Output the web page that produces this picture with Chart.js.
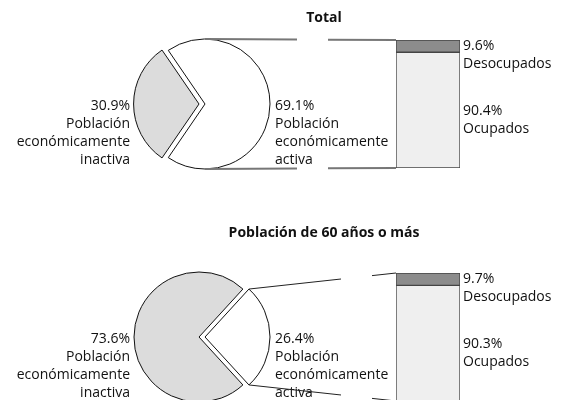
<!DOCTYPE html>
<html>
<head>
<meta charset="utf-8">
<script src="https://cdn.jsdelivr.net/npm/chart.js@4.4.1/dist/chart.umd.min.js"></script>
<style>
  html, body { margin: 0; padding: 0; background: #fff; overflow: hidden; }
  body { width: 564px; height: 400px; position: relative; }
  canvas { position: absolute; }
</style>
</head>
<body>
<canvas id="pieTotal"></canvas>
<canvas id="pie60"></canvas>
<canvas id="barTotal"></canvas>
<canvas id="bar60"></canvas>
<script>
// data
var titles = ['Total', 'Población de 60 años o más'];
var pieLabels = [['Población', 'económicamente', 'inactiva'], ['Población', 'económicamente', 'activa']];
var barLabels = ['Ocupados', 'Desocupados'];
var pieTotal = [30.9, 69.1];
var pie60 = [73.6, 26.4];
var barTotal = [90.4, 9.6];
var bar60 = [90.3, 9.7];

var FONT = '"Open Sans", "DejaVu Sans", sans-serif';
var TEXT = '#111';

// layout of the two panels (page pixels)
var panels = [
  {pie: 'pieTotal', bar: 'barTotal', title: titles[0], pieData: pieTotal, barData: barTotal,
   top: 0, cx: 205, cy: 104, titleY: 22, explode: 0, lineColor: '#777', lineWidth: 2, gap: [297, 328]},
  {pie: 'pie60', bar: 'bar60', title: titles[1], pieData: pie60, barData: bar60,
   top: 200, cx: 199, cy: 337, titleY: 237, explode: 1, lineColor: '#222', lineWidth: 1, gap: [341, 372]}
];
var byCanvas = {};

function pct(v) { return v.toFixed(1) + '%'; }

function place(cv, left, top, w, h) {
  cv.width = w; cv.height = h;
  cv.style.left = left + 'px'; cv.style.top = top + 'px';
  cv.style.width = w + 'px'; cv.style.height = h + 'px';
}

function arcCenter(a) {
  var mid = (a.startAngle + a.endAngle) / 2;
  var off = (a.options.offset || 0) / 4;
  return {x: a.x + Math.cos(mid) * off, y: a.y + Math.sin(mid) * off};
}

// labels right of the bar
var barDecor = {
  id: 'barDecor',
  afterDraw: function(chart) {
    var ctx = chart.ctx, area = chart.chartArea, y = chart.scales.y;
    var d = chart.data.datasets;
    var x = area.right + 3;
    ctx.save();
    ctx.font = '14px ' + FONT;
    ctx.fillStyle = TEXT;
    ctx.textAlign = 'left';
    ctx.fillText(pct(d[1].data[0]), x, area.top + 10);
    ctx.fillText(d[1].label, x, area.top + 28);
    var mid = y.getPixelForValue(50);
    ctx.fillText(pct(d[0].data[0]), x, mid + 11);
    ctx.fillText(d[0].label, x, mid + 29);
    ctx.restore();
  }
};

// title, slice labels and connector lines
var pieDecor = {
  id: 'pieDecor',
  afterDraw: function(chart) {
    var p = byCanvas[chart.canvas.id];
    if (!p) return;
    var ctx = chart.ctx;
    var arcs = chart.getDatasetMeta(0).data;
    var vals = chart.data.datasets[0].data;
    ctx.save();
    ctx.fillStyle = TEXT;
    ctx.font = 'bold 14px ' + FONT;
    ctx.textAlign = 'center';
    ctx.fillText(p.title, 324, p.titleY - p.top);

    var c0 = arcCenter(arcs[0]), c1 = arcCenter(arcs[1]);
    var r = arcs[0].outerRadius;
    var base = p.cy - p.top + 6;
    ctx.font = '14px ' + FONT;
    ctx.textAlign = 'right';
    var left = [pct(vals[0])].concat(pieLabels[0]);
    left.forEach(function(t, i) { ctx.fillText(t, c0.x - r - 4, base + i * 18); });
    ctx.textAlign = 'left';
    var right = [pct(vals[1])].concat(pieLabels[1]);
    right.forEach(function(t, i) { ctx.fillText(t, c1.x + r + 5, base + i * 18); });

    // connectors from the active slice to the bar
    var a = arcs[1], ac = c1, ends;
    if (a.circumference > Math.PI) {
      ends = [{x: ac.x, y: ac.y - r}, {x: ac.x, y: ac.y + r}];
    } else {
      ends = [a.startAngle, a.endAngle].map(function(t) {
        return {x: ac.x + r * Math.cos(t), y: ac.y + r * Math.sin(t)};
      }).sort(function(u, v) { return u.y - v.y; });
    }
    var bc = p.barChart, cv = bc.canvas;
    var topEl = bc.getDatasetMeta(1).data[0], botEl = bc.getDatasetMeta(0).data[0];
    var bx = cv.offsetLeft + topEl.x - topEl.width / 2;
    var targets = [{x: bx, y: cv.offsetTop + topEl.y - p.top}, {x: bx, y: cv.offsetTop + botEl.base - p.top}];
    ctx.strokeStyle = p.lineColor;
    ctx.lineWidth = p.lineWidth;
    for (var k = 0; k < 2; k++) {
      var P = ends[k], Q = targets[k];
      var at = function(x) { return P.y + (Q.y - P.y) * (x - P.x) / (Q.x - P.x); };
      ctx.beginPath();
      ctx.moveTo(P.x, P.y);
      ctx.lineTo(p.gap[0], at(p.gap[0]));
      ctx.moveTo(p.gap[1], at(p.gap[1]));
      ctx.lineTo(Q.x, Q.y);
      ctx.stroke();
    }
    ctx.restore();
  }
};

panels.forEach(function(p) {
  var barCv = document.getElementById(p.bar);
  place(barCv, 380, p.cy - 74, 184, 150);
  p.barChart = new Chart(barCv, {
    type: 'bar',
    data: {
      labels: [''],
      datasets: [
        {label: barLabels[0], data: [p.barData[0]], backgroundColor: '#efefef'},
        {label: barLabels[1], data: [p.barData[1]], backgroundColor: '#8c8c8c'}
      ]
    },
    options: {
      responsive: false, animation: false, events: [],
      layout: {padding: {left: 16, right: 104, top: 10, bottom: 12}},
      datasets: {bar: {barPercentage: 1, categoryPercentage: 1, borderColor: '#444', borderWidth: 1, borderSkipped: false}},
      scales: {
        x: {stacked: true, display: false},
        y: {stacked: true, display: false, min: 0, max: 100}
      },
      plugins: {legend: {display: false}, tooltip: {enabled: false}}
    },
    plugins: [barDecor]
  });

  var pieCv = document.getElementById(p.pie);
  byCanvas[p.pie] = p;
  place(pieCv, 0, p.top, 564, 200);
  var cyL = p.cy - p.top;
  new Chart(pieCv, {
    type: 'pie',
    data: {
      labels: pieLabels.map(function(l) { return l.join(' '); }),
      datasets: [{
        data: p.pieData,
        backgroundColor: ['#dcdcdc', '#ffffff'],
        borderColor: '#111',
        borderWidth: 1,
        borderJoinStyle: 'miter',
        offset: p.explode === 0 ? [24, 0] : [0, 24],
        radius: 65
      }]
    },
    options: {
      responsive: false, animation: false, events: [],
      rotation: 270 - p.pieData[0] * 1.8,
      layout: {padding: {left: p.cx - 60, right: 564 - p.cx - 60, top: cyL - 60, bottom: 200 - cyL - 60}},
      plugins: {legend: {display: false}, tooltip: {enabled: false}}
    },
    plugins: [pieDecor]
  });
});
</script>
</body>
</html>
